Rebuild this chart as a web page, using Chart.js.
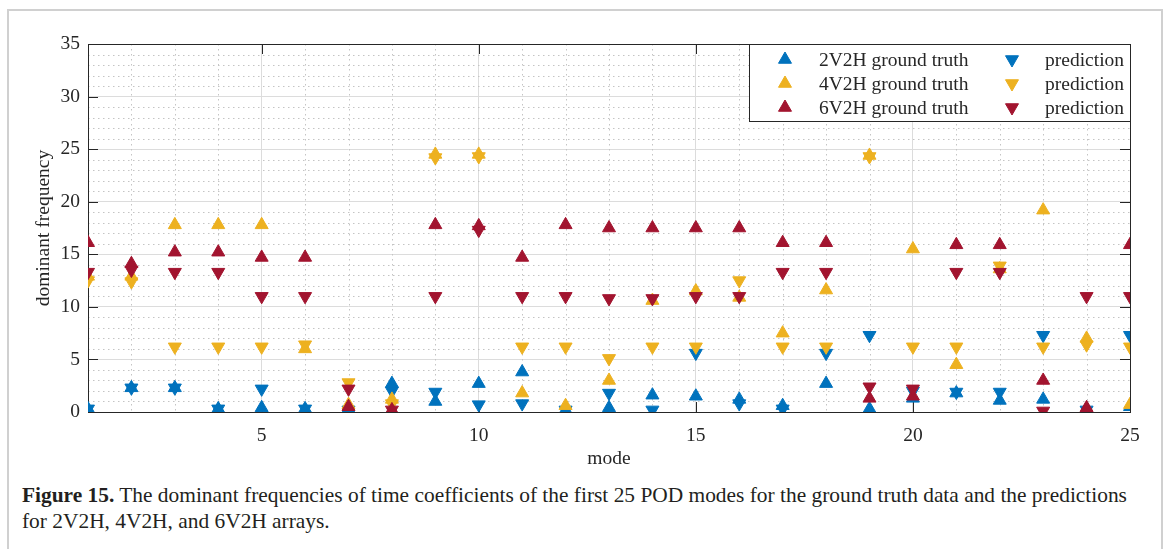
<!DOCTYPE html>
<html>
<head>
<meta charset="utf-8">
<script src="https://cdn.jsdelivr.net/npm/chart.js@4.4.0/dist/chart.umd.min.js"></script>
<style>
body { margin:0; background:#fff; width:1172px; height:549px; overflow:hidden; position:relative; font-family:"Liberation Serif", serif; }
#frame { position:absolute; left:7px; top:9px; width:1156px; height:600px; border:2px solid #d0d0d0; box-sizing:border-box; }
#wrap { position:absolute; left:0; top:0; width:1172px; height:470px; }
#caption { position:absolute; left:22px; top:482px; width:1136px; font-size:21.4px; line-height:26px; color:#231f20; white-space:nowrap; }
</style>
</head>
<body>
<div id="frame"></div>
<div id="wrap"><canvas id="freqChart" width="1172" height="470"></canvas></div>
<div id="caption"><b>Figure 15.</b> The dominant frequencies of time coefficients of the first 25 POD modes for the ground truth data and the predictions<br>for 2V2H, 4V2H, and 6V2H arrays.</div>
<script>
// POD mode numbers
const modes = [1,2,3,4,5,6,7,8,9,10,11,12,13,14,15,16,17,18,19,20,21,22,23,24,25];

// dominant frequency
const gt2V2H   = [0.3,2.3,2.3,0.3,0.4,0.3,0.3,2.7,1.0,2.7,3.8,0.2,0.4,1.6,1.5,1.2,0.6,2.7,0.3,1.3,1.8,1.1,1.2,0.3,0.5];
const pred2V2H = [0.3,2.3,2.3,0.3,2.2,0.3,0.2,2.0,1.9,0.7,0.8,0.2,1.8,0.2,5.6,0.8,0.3,5.6,7.3,2.0,1.9,1.9,7.3,0.2,7.3];
const gt4V2H   = [12.9,12.9,17.8,17.8,17.8,6.0,0.7,1.2,24.5,24.5,1.8,0.6,3.0,10.6,11.5,10.9,7.5,11.6,24.4,15.5,4.5,13.6,19.2,7.0,0.7];
const pred4V2H = [12.5,12.4,6.2,6.2,6.2,6.4,2.8,0.8,24.2,24.3,6.2,6.2,5.1,6.2,6.2,12.5,6.2,6.2,24.3,6.2,6.2,13.9,6.2,6.4,6.2];
const gt6V2H   = [16.1,14.1,15.2,15.2,14.7,14.7,0.5,0.2,17.8,17.7,14.7,17.8,17.5,17.5,17.5,17.5,16.1,16.1,1.3,1.5,15.9,15.9,3.0,0.4,15.9];
const pred6V2H = [13.3,13.5,13.3,13.3,11.0,11.0,2.2,0.2,11.0,17.3,11.0,11.0,10.8,10.8,11.0,11.0,13.3,13.3,2.4,2.2,13.3,13.3,0.1,11.0,11.0];

const yTicks = [0,5,10,15,20,25,30,35];
const xTicks = [5,10,15,20,25];

const blue = '#0072BD', yellow = '#EDB120', red = '#A2142F';
const fontFam = '"Liberation Serif", "Times New Roman", serif';

function toPoints(vals){
    return vals.map(function(v, i){ return {x: modes[i], y: v}; });
}

function series(label, vals, color, up, order){
    return {
        label: label,
        data: toPoints(vals),
        backgroundColor: color,
        borderColor: color,
        pointStyle: 'triangle',
        pointRotation: up ? 0 : 180,
        pointRadius: 7.5,
        pointHoverRadius: 7.5,
        pointBorderWidth: 1,
        showLine: false,
        order: order
    };
}

// minor dotted grid, box and inward ticks like the original figure
const axesDecor = {
    id: 'axesDecor',
    beforeDatasetsDraw(chart){
        const ctx = chart.ctx;
        const a = chart.chartArea;
        const xs = chart.scales.x, ys = chart.scales.y;
        ctx.save();
        ctx.strokeStyle = '#c4c4c4';
        ctx.lineWidth = 1;
        ctx.setLineDash([1.5, 3.5]);
        for (let m = 2; m < 25; m++){
            if (m % 5 === 0) continue;
            const px = Math.round(xs.getPixelForValue(m)) + 0.5;
            ctx.beginPath(); ctx.moveTo(px, a.top); ctx.lineTo(px, a.bottom); ctx.stroke();
        }
        for (let v = 1; v < 35; v++){
            if (v % 5 === 0) continue;
            const py = Math.round(ys.getPixelForValue(v)) + 0.5;
            ctx.beginPath(); ctx.moveTo(a.left, py); ctx.lineTo(a.right, py); ctx.stroke();
        }
        ctx.setLineDash([]);
        ctx.strokeStyle = '#262626';
        ctx.lineWidth = 1;
        ctx.strokeRect(a.left + 0.5, a.top + 0.5, a.right - a.left, a.bottom - a.top);
        const tl = 10;
        ctx.beginPath();
        yTicks.forEach(function(v){
            const py = Math.round(ys.getPixelForValue(v)) + 0.5;
            ctx.moveTo(a.left, py); ctx.lineTo(a.left + tl, py);
            ctx.moveTo(a.right, py); ctx.lineTo(a.right - tl, py);
        });
        xTicks.forEach(function(v){
            const px = Math.round(xs.getPixelForValue(v)) + 0.5;
            ctx.moveTo(px, a.bottom); ctx.lineTo(px, a.bottom - tl);
            ctx.moveTo(px, a.top); ctx.lineTo(px, a.top + tl);
        });
        ctx.stroke();
        ctx.restore();
    }
};

// two-column legend box in the top right corner
const legendBox = {
    id: 'legendBox',
    afterDatasetsDraw(chart){
        const ctx = chart.ctx;
        const a = chart.chartArea;
        const w = 381, h = 77;
        const left = a.right - w, top = a.top;
        ctx.save();
        ctx.fillStyle = '#fff';
        ctx.fillRect(left, top, w, h);
        ctx.strokeStyle = '#262626';
        ctx.lineWidth = 1;
        ctx.strokeRect(left + 0.5, top + 0.5, w, h);
        ctx.font = '19.5px ' + fontFam;
        ctx.textBaseline = 'middle';
        const rows = [[0, 1], [2, 3], [4, 5]];
        rows.forEach(function(r, i){
            const cy = top + 15.5 + i * 24;
            [[r[0], 36, 70], [r[1], 263, 296]].forEach(function(c){
                const ds = chart.data.datasets[c[0]];
                ctx.fillStyle = ds.backgroundColor;
                ctx.strokeStyle = ds.borderColor;
                Chart.helpers.drawPoint(ctx, {pointStyle: 'triangle', rotation: ds.pointRotation, radius: 7.5, borderWidth: 1}, left + c[1], cy);
                ctx.fillStyle = '#262626';
                ctx.fillText(ds.label, left + c[2], cy + 1.5);
            });
        });
        ctx.restore();
    }
};

const config = {
    type: 'scatter',
    data: {
        datasets: [
            series('2V2H ground truth', gt2V2H, blue, true, 6),
            series('prediction', pred2V2H, blue, false, 5),
            series('4V2H ground truth', gt4V2H, yellow, true, 4),
            series('prediction', pred4V2H, yellow, false, 3),
            series('6V2H ground truth', gt6V2H, red, true, 2),
            series('prediction', pred6V2H, red, false, 1)
        ]
    },
    options: {
        responsive: false,
        animation: false,
        layout: { padding: { left: 0, top: 44, right: 42, bottom: 0 } },
        plugins: {
            legend: { display: false },
            tooltip: { enabled: false }
        },
        scales: {
            x: {
                type: 'linear',
                min: 1,
                max: 25,
                afterFit: function(scale){ scale.height = 58; },
                border: { display: false },
                grid: {
                    drawTicks: false,
                    lineWidth: 1,
                    color: function(c){ return (c.tick && c.tick.value % 5 === 0) ? '#dcdcdc' : 'rgba(0,0,0,0)'; }
                },
                ticks: {
                    stepSize: 1,
                    autoSkip: false,
                    maxRotation: 0,
                    padding: 12,
                    color: '#262626',
                    font: { family: fontFam, size: 19.5 },
                    callback: function(v){ return xTicks.indexOf(v) >= 0 ? String(v) : ''; }
                },
                title: {
                    display: true,
                    text: 'mode',
                    color: '#262626',
                    font: { family: fontFam, size: 19.5 },
                    padding: { top: 0, bottom: -1 }
                }
            },
            y: {
                min: 0,
                max: 35,
                afterFit: function(scale){ scale.width = 88; },
                border: { display: false },
                grid: { drawTicks: false, color: '#dcdcdc', lineWidth: 1 },
                ticks: {
                    stepSize: 5,
                    padding: 8,
                    color: '#262626',
                    font: { family: fontFam, size: 19.5 }
                },
                title: {
                    display: true,
                    text: 'dominant frequency',
                    color: '#262626',
                    font: { family: fontFam, size: 19.5 },
                    padding: { top: 32, bottom: 0 }
                }
            }
        }
    },
    plugins: [axesDecor, legendBox]
};

const freqChart = new Chart(document.getElementById('freqChart'), config);
</script>
</body>
</html>
